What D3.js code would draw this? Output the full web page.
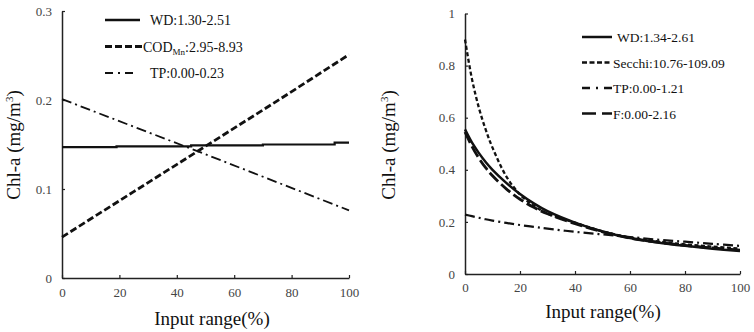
<!DOCTYPE html>
<html><head><meta charset="utf-8">
<script src="https://cdn.jsdelivr.net/npm/d3@7"></script>
<style>
body{margin:0;background:#fff;}
svg text{font-family:"Liberation Serif","Times New Roman",serif;}
</style></head>
<body><svg id="c" width="754" height="332"></svg>
<script>
// ---- Data: left panel ----
const leftXTicks = [0, 20, 40, 60, 80, 100];
const leftYTicks = [0, 0.1, 0.2, 0.3];
const leftWD_x = [0, 19, 45, 70, 95, 100];
const leftWD_y = [0.147, 0.148, 0.149, 0.150, 0.152, 0.152];
const leftCOD_x = [0, 25, 50, 75, 100];
const leftCOD_y = [0.046, 0.097, 0.148, 0.199, 0.251];
const leftTP_x = [0, 50, 100];
const leftTP_y = [0.201, 0.139, 0.076];
const leftLegend = ["WD:1.30-2.51", "COD", "TP:0.00-0.23"];

// ---- Data: right panel ----
const rightXTicks = [0, 20, 40, 60, 80, 100];
const rightYTicks = [0, 0.2, 0.4, 0.6, 0.8, 1];
const rightX = [0, 2.5, 5, 7.5, 10, 15, 20, 25, 30, 40, 50, 60, 70, 80, 90, 100];
const rightWD = [0.555, 0.505, 0.465, 0.43, 0.40, 0.35, 0.307, 0.271, 0.241, 0.197, 0.163, 0.138, 0.121, 0.108, 0.097, 0.088];
const rightSecchi = [0.90, 0.75, 0.64, 0.555, 0.485, 0.375, 0.305, 0.262, 0.232, 0.197, 0.164, 0.140, 0.125, 0.114, 0.105, 0.098];
const rightTP = [0.228, 0.222, 0.216, 0.210, 0.205, 0.196, 0.188, 0.181, 0.174, 0.162, 0.152, 0.142, 0.132, 0.124, 0.116, 0.108];
const rightF = [0.545, 0.49, 0.445, 0.408, 0.377, 0.327, 0.287, 0.256, 0.231, 0.193, 0.162, 0.138, 0.122, 0.110, 0.100, 0.092];
const rightLegend = ["WD:1.34-2.61", "Secchi:10.76-109.09", "TP:0.00-1.21", "F:0.00-2.16"];

const svg = d3.select("#c");
const ink = "#111";

function panel(cfg) {
  const g = svg.append("g");
  const x = d3.scaleLinear().domain([0, 100]).range([cfg.x0, cfg.x1]);
  const y = d3.scaleLinear().domain([0, cfg.ymax]).range([cfg.y0, cfg.y1]);
  const xa = g.append("g").attr("transform", `translate(0,${cfg.y0})`)
    .call(d3.axisBottom(x).tickValues(cfg.xt).tickSize(-3).tickSizeOuter(0).tickPadding(cfg.xpad).tickFormat(d3.format("d")));
  const ya = g.append("g").attr("transform", `translate(${cfg.x0},0)`)
    .call(d3.axisLeft(y).tickValues(cfg.yt).tickSize(-3).tickSizeOuter(0).tickPadding(10).tickFormat(d => d === 0 ? "0" : d === 1 ? "1" : d3.format(".1f")(d)));
  [xa, ya].forEach(a => {
    a.select(".domain").attr("stroke", "#222").attr("stroke-width", 1.5);
    a.selectAll(".tick line").attr("stroke", "#222").attr("stroke-width", 1.2);
    a.selectAll(".tick text").attr("fill", "#444").style("font-size", "13px");
  });
  g.append("text").attr("x", cfg.xt_x).attr("y", cfg.xt_y).attr("text-anchor", "middle")
    .style("font-size", "19px").attr("fill", ink).text("Input range(%)");
  const yt = g.append("text").attr("transform", `translate(${cfg.yt_x},${cfg.yt_y}) rotate(-90)`)
    .attr("text-anchor", "middle").style("font-size", "19px").attr("fill", ink);
  yt.append("tspan").text("Chl-a (mg/m");
  yt.append("tspan").attr("dy", -7).style("font-size", "11px").text("3");
  yt.append("tspan").attr("dy", 7).text(")");
  return {g, x, y};
}

// ---------- Left ----------
const L = panel({x0: 62, x1: 349, y0: 278, y1: 11, ymax: 0.3, xt: leftXTicks, yt: leftYTicks,
  xpad: 10, xt_x: 212, xt_y: 325, yt_x: 20, yt_y: 145});
const lineL = (xs, ys, curve) => d3.line().x((d, i) => L.x(xs[i])).y(d => L.y(d)).curve(curve)(ys);
L.g.append("path").attr("d", lineL(leftWD_x, leftWD_y, d3.curveStepAfter)).attr("fill", "none")
  .attr("stroke", ink).attr("stroke-width", 2.2);
L.g.append("path").attr("d", lineL(leftCOD_x, leftCOD_y, d3.curveLinear)).attr("fill", "none")
  .attr("stroke", ink).attr("stroke-width", 2.8).attr("stroke-dasharray", "7,3");
L.g.append("path").attr("d", lineL(leftTP_x, leftTP_y, d3.curveLinear)).attr("fill", "none")
  .attr("stroke", ink).attr("stroke-width", 1.8).attr("stroke-dasharray", "10,4,2,4");

const lStyles = [{da: null, w: 2.5, x2: 140, tx: 150}, {da: "7,3", w: 3, x2: 143, tx: 143}, {da: "8,5,2,5", w: 2.2, x2: 135, tx: 150}];
leftLegend.forEach((t, i) => {
  const yy = 20 + i * 26.5;
  const s = lStyles[i];
  L.g.append("line").attr("x1", 105).attr("x2", s.x2).attr("y1", yy).attr("y2", yy)
    .attr("stroke", ink).attr("stroke-width", s.w).attr("stroke-dasharray", s.da);
  const tx = L.g.append("text").attr("x", s.tx).attr("y", yy + 5).style("font-size", "14px").attr("fill", ink);
  if (t === "COD") {
    tx.append("tspan").text("COD");
    tx.append("tspan").attr("dy", 3).style("font-size", "9px").text("Mn");
    tx.append("tspan").attr("dy", -3).text(":2.95-8.93");
  } else tx.text(t);
});

// ---------- Right ----------
const R = panel({x0: 465, x1: 740, y0: 274, y1: 13.5, ymax: 1, xt: rightXTicks, yt: rightYTicks,
  xpad: 9, xt_x: 603, xt_y: 318, yt_x: 395, yt_y: 145});
const lineR = ys => d3.line().x((d, i) => R.x(rightX[i])).y(d => R.y(d)).curve(d3.curveCatmullRom.alpha(0.5))(ys);
R.g.append("path").attr("d", lineR(rightTP)).attr("fill", "none").attr("stroke", ink)
  .attr("stroke-width", 2.2).attr("stroke-dasharray", "10,4,2,4");
R.g.append("path").attr("d", lineR(rightSecchi)).attr("fill", "none").attr("stroke", ink)
  .attr("stroke-width", 2.3).attr("stroke-dasharray", "4,2.5");
R.g.append("path").attr("d", lineR(rightF)).attr("fill", "none").attr("stroke", ink)
  .attr("stroke-width", 2.8).attr("stroke-dasharray", "12,4");
R.g.append("path").attr("d", lineR(rightWD)).attr("fill", "none").attr("stroke", ink)
  .attr("stroke-width", 2.5);

const rStyles = [{da: null, w: 2.5}, {da: "5,2.5", w: 2.5}, {da: "8,6,2,6", w: 2.5}, {da: "14,6", w: 2.5}];
rightLegend.forEach((t, i) => {
  const yy = 37 + i * 25.5;
  const s = rStyles[i];
  R.g.append("line").attr("x1", 582).attr("x2", 612).attr("y1", yy).attr("y2", yy)
    .attr("stroke", ink).attr("stroke-width", s.w).attr("stroke-dasharray", s.da);
  R.g.append("text").attr("x", i === 0 ? 617 : 613).attr("y", yy + 5).style("font-size", "13.5px").attr("fill", ink).text(t);
});
</script></body></html>
